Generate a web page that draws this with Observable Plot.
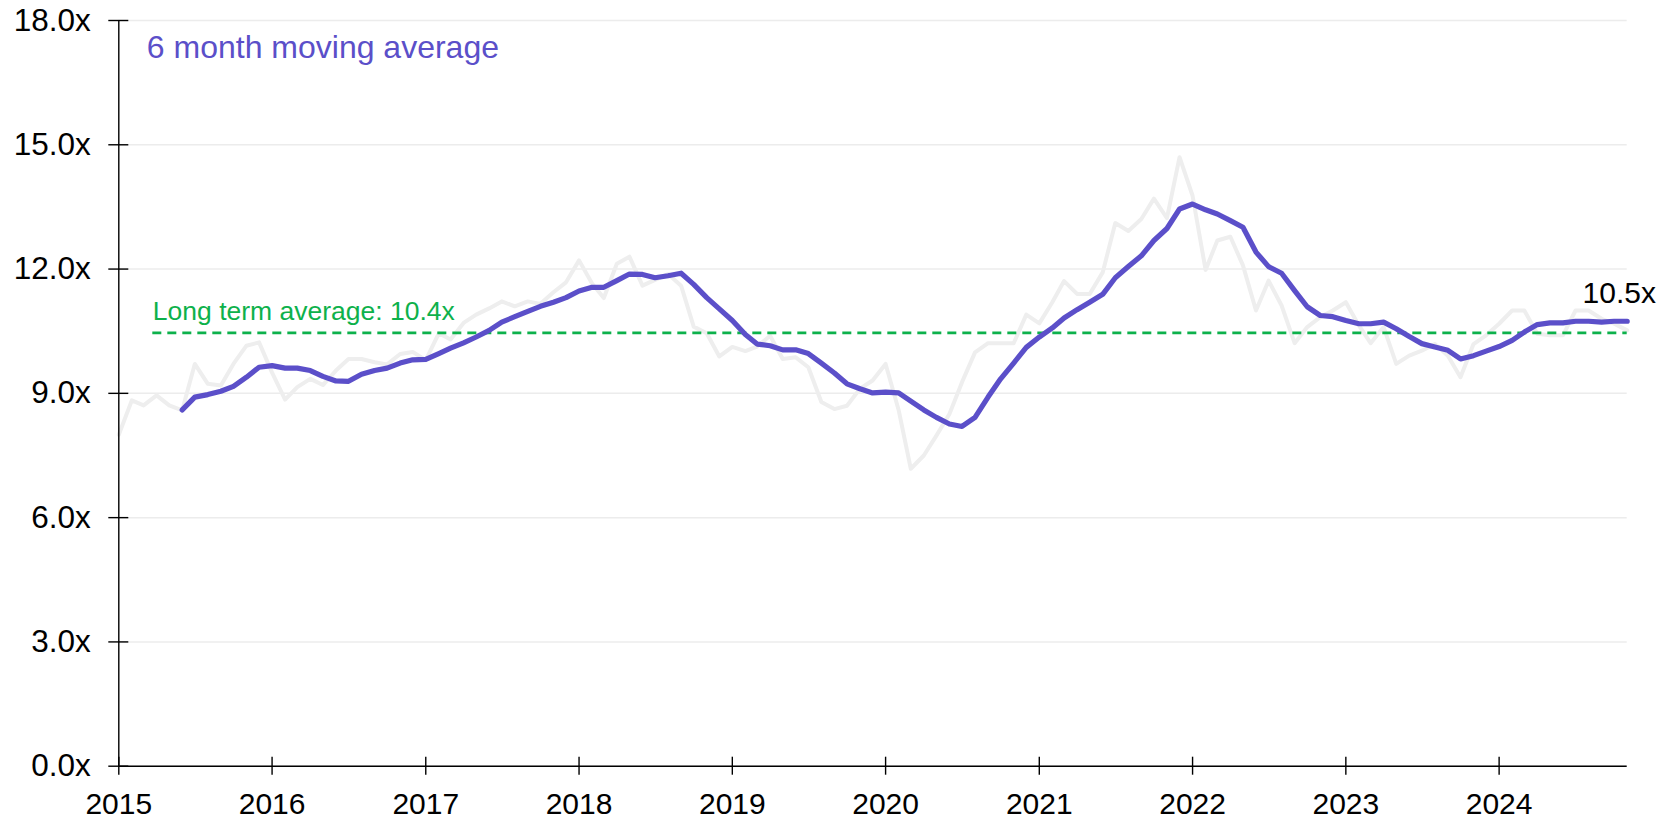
<!DOCTYPE html>
<html>
<head>
<meta charset="utf-8">
<script src="https://cdn.jsdelivr.net/npm/d3@7"></script>
<script src="https://cdn.jsdelivr.net/npm/@observablehq/plot@0.6"></script>
<style>
  html, body { margin: 0; padding: 0; background: #fff; }
  #chart svg { display: block; }
</style>
</head>
<body>
<div id="chart"></div>
<script>
// ---- Data ----
const firstMonth = "2015-01-01";

// Monthly raw multiple, Jan 2015 .. Nov 2024
const rawValues = [
  8.0, 8.83, 8.71, 8.95, 8.71, 8.59, 9.71, 9.23, 9.19, 9.71, 10.15, 10.23,
  9.5, 8.85, 9.15, 9.35, 9.2, 9.55, 9.83, 9.83, 9.75, 9.70, 9.95, 10.0,
  9.80, 10.45, 10.30, 10.70, 10.90, 11.05, 11.22, 11.10, 11.22, 11.16, 11.44, 11.68,
  12.21, 11.65, 11.30, 12.13, 12.30, 11.60, 11.74, 11.88, 11.60, 10.61, 10.45, 9.89,
  10.12, 10.02, 10.13, 10.39, 9.83, 9.87, 9.63, 8.79, 8.62, 8.70, 9.11, 9.31,
  9.71, 8.60, 7.18, 7.50, 7.98, 8.50, 9.27, 9.99, 10.21, 10.21, 10.21, 10.90,
  10.69, 11.20, 11.71, 11.40, 11.40, 11.92, 13.11, 12.92, 13.21, 13.70, 13.23, 14.70,
  13.77, 11.98, 12.69, 12.78, 12.09, 11.0, 11.72, 11.12, 10.21, 10.60, 10.84, 11.0,
  11.2, 10.64, 10.21, 10.60, 9.71, 9.91, 10.03, 10.19, 9.91, 9.39, 10.19, 10.40,
  10.68, 11.0, 11.0, 10.44, 10.40, 10.40, 11.0, 11.0, 10.8, 10.68, 10.52
];

// 6 month moving average, same months (first five months have none)
const maValues = [
  null, null, null, null, null, 8.60, 8.91, 8.97, 9.05, 9.17, 9.39, 9.63,
  9.67, 9.61, 9.61, 9.55, 9.41, 9.30, 9.29, 9.46, 9.55, 9.61, 9.73, 9.81,
  9.82, 9.96, 10.09, 10.22, 10.36, 10.52, 10.72, 10.85, 10.98, 11.10, 11.20, 11.31,
  11.47, 11.56, 11.56, 11.72, 11.88, 11.87, 11.79, 11.84, 11.90, 11.63, 11.31, 11.04,
  10.76, 10.42, 10.19, 10.15, 10.05, 10.05, 9.96, 9.73, 9.49, 9.23, 9.11, 9.01,
  9.03, 9.01, 8.81, 8.60, 8.42, 8.26, 8.20, 8.42, 8.91, 9.35, 9.73, 10.11,
  10.36, 10.58, 10.82, 11.02, 11.20, 11.39, 11.79, 12.06, 12.32, 12.69, 12.98, 13.45,
  13.57, 13.43, 13.33, 13.17, 13.01, 12.41, 12.06, 11.90, 11.48, 11.09, 10.88, 10.85,
  10.76, 10.68, 10.68, 10.72, 10.56, 10.37, 10.20, 10.12, 10.04, 9.83, 9.91, 10.02,
  10.13, 10.28, 10.48, 10.66, 10.70, 10.70, 10.74, 10.74, 10.72, 10.74, 10.74
];

const yTicks = [0, 3, 6, 9, 12, 15, 18];
const yearTicks = ["2015-01-01", "2016-01-01", "2017-01-01", "2018-01-01", "2019-01-01",
                   "2020-01-01", "2021-01-01", "2022-01-01", "2023-01-01", "2024-01-01"];

const longTermAverage = 10.46;
const longTermLabel = "Long term average: 10.4x";
const averageLineStart = "2015-03-23";
const titleText = "6 month moving average";
const lastLabel = "10.5x";

// ---- Build table ----
const start = new Date(firstMonth);
const data = rawValues.map((v, i) => ({
  date: d3.utcMonth.offset(start, i),
  raw: v,
  ma: maValues[i]
}));
const lastPoint = data[data.length - 1];
const avgStart = new Date(averageLineStart);

const purple = "#5b4fc9";
const green = "#0db14b";

const chart = Plot.plot({
  width: 1665,
  height: 819,
  marginLeft: 118.3,
  marginRight: 38.3,
  marginTop: 20,
  marginBottom: 53.3,
  style: {
    fontFamily: "'Liberation Sans', Arial, sans-serif",
    fontSize: "30px",
    background: "#fff",
    color: "#000"
  },
  x: { type: "utc", domain: [data[0].date, lastPoint.date], label: null },
  y: { domain: [0, 18], label: null },
  marks: [
    Plot.gridY(yTicks, { stroke: "#ececec", strokeOpacity: 1, strokeWidth: 1.5 }),
    Plot.line(data, { x: "date", y: "raw", stroke: "#eeeeee", strokeWidth: 4, strokeLinejoin: "round" }),
    Plot.ruleY([longTermAverage], {
      y: d => d, x1: () => avgStart, x2: () => lastPoint.date,
      stroke: green, strokeWidth: 2.6, strokeDasharray: "9,6"
    }),
    Plot.line(data, { x: "date", y: "ma", stroke: purple, strokeWidth: 5.2, strokeLinejoin: "round", strokeLinecap: "round" }),
    Plot.ruleX([data[0].date], { stroke: "#000", strokeWidth: 1.4 }),
    Plot.ruleY([0], { stroke: "#000", strokeWidth: 1.4 }),
    Plot.axisY({
      ticks: yTicks, tickFormat: d => d.toFixed(1) + "x",
      tickSize: 10, tickPadding: 18, fontSize: 31.5, strokeWidth: 1.4, label: null
    }),
    Plot.axisX({
      ticks: yearTicks.map(d => new Date(d)), tickFormat: d3.utcFormat("%Y"),
      tickSize: 9, tickPadding: 17, fontSize: 30, strokeWidth: 1.4, label: null
    }),
    Plot.text([titleText], {
      frameAnchor: "top-left", dx: 28, dy: 15, fill: purple, fontSize: 32, text: d => d
    }),
    Plot.text([longTermLabel], {
      x: () => avgStart, y: () => longTermAverage, text: d => d,
      textAnchor: "start", lineAnchor: "bottom", dy: -13, fill: green, fontSize: 26.5
    }),
    Plot.text([lastPoint], {
      x: "date", y: "raw", text: () => lastLabel,
      textAnchor: "middle", lineAnchor: "bottom", dx: -8, dy: -27, fill: "#000", fontSize: 30
    })
  ]
});

// ticks that cross the axis lines
d3.select(chart).selectAll('g[aria-label="x-axis tick"] path').attr("d", "M0,-9L0,9");
d3.select(chart).selectAll('g[aria-label="y-axis tick"] path').attr("d", "M-10,0L10,0");

document.getElementById("chart").appendChild(chart);
</script>
</body>
</html>
